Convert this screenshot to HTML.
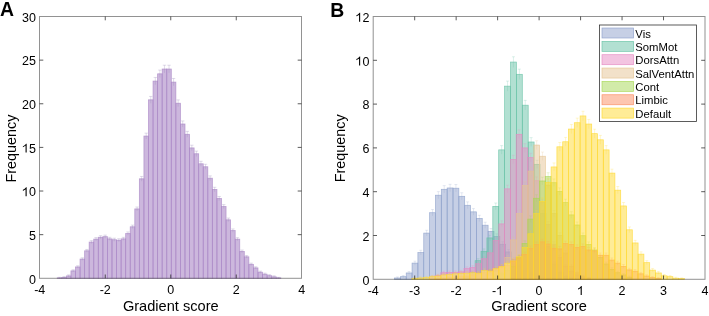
<!DOCTYPE html>
<html><head><meta charset="utf-8"><style>
html,body{margin:0;padding:0;background:#fff;}
svg{display:block;will-change:transform;}
</style></head><body>
<svg width="709" height="316" viewBox="0 0 709 316">
<rect width="709" height="316" fill="#fff"/>
<g fill="#AA87C6" fill-opacity="0.6" stroke="#AA87C6" stroke-opacity="0.75" stroke-width="0.8"><rect x="57.25" y="277.86" width="4.56" height="0.44"/><rect x="61.81" y="277.43" width="4.56" height="0.87"/><rect x="66.37" y="275.94" width="4.56" height="2.36"/><rect x="70.94" y="270.88" width="4.56" height="7.42"/><rect x="75.5" y="266.96" width="4.56" height="11.34"/><rect x="80.06" y="259.1" width="4.56" height="19.2"/><rect x="84.62" y="250.81" width="4.56" height="27.49"/><rect x="89.18" y="242.08" width="4.56" height="36.22"/><rect x="93.75" y="239.12" width="4.56" height="39.18"/><rect x="98.31" y="237.28" width="4.56" height="41.02"/><rect x="102.87" y="236.67" width="4.56" height="41.63"/><rect x="107.43" y="238.86" width="4.56" height="39.44"/><rect x="111.99" y="239.73" width="4.56" height="38.57"/><rect x="116.56" y="240.25" width="4.56" height="38.05"/><rect x="121.12" y="238.86" width="4.56" height="39.44"/><rect x="125.68" y="233.53" width="4.56" height="44.77"/><rect x="130.24" y="226.81" width="4.56" height="51.49"/><rect x="134.8" y="208.92" width="4.56" height="69.38"/><rect x="139.37" y="178.82" width="4.56" height="99.48"/><rect x="143.93" y="136.06" width="4.56" height="142.24"/><rect x="148.49" y="99.84" width="4.56" height="178.46"/><rect x="153.05" y="81.08" width="4.56" height="197.22"/><rect x="157.61" y="73.83" width="4.56" height="204.47"/><rect x="162.18" y="69.03" width="4.56" height="209.27"/><rect x="166.74" y="69.03" width="4.56" height="209.27"/><rect x="171.3" y="82.12" width="4.56" height="196.18"/><rect x="175.86" y="103.24" width="4.56" height="175.06"/><rect x="180.42" y="124.01" width="4.56" height="154.29"/><rect x="184.99" y="134.31" width="4.56" height="143.99"/><rect x="189.55" y="147.92" width="4.56" height="130.38"/><rect x="194.11" y="153.77" width="4.56" height="124.53"/><rect x="198.67" y="163.81" width="4.56" height="114.49"/><rect x="203.23" y="166.77" width="4.56" height="111.53"/><rect x="207.8" y="178.21" width="4.56" height="100.09"/><rect x="212.36" y="189.46" width="4.56" height="88.84"/><rect x="216.92" y="198.54" width="4.56" height="79.76"/><rect x="221.48" y="206.57" width="4.56" height="71.73"/><rect x="226.04" y="219.83" width="4.56" height="58.47"/><rect x="230.61" y="230.57" width="4.56" height="47.73"/><rect x="235.17" y="239.2" width="4.56" height="39.1"/><rect x="239.73" y="251.42" width="4.56" height="26.88"/><rect x="244.29" y="256.83" width="4.56" height="21.47"/><rect x="248.85" y="264.34" width="4.56" height="13.96"/><rect x="253.42" y="267.92" width="4.56" height="10.38"/><rect x="257.98" y="272.19" width="4.56" height="6.11"/><rect x="262.54" y="274.2" width="4.56" height="4.1"/><rect x="267.1" y="275.68" width="4.56" height="2.62"/><rect x="271.66" y="276.82" width="4.56" height="1.48"/><rect x="276.23" y="277.86" width="4.56" height="0.44"/></g><path d="M59.53 278.43V277.3M57.83 277.3H61.23M64.09 278.25V276.6M62.39 276.6H65.79M68.66 276.98V274.91M66.95 274.91H70.36M73.22 271.98V269.78M71.52 269.78H74.92M77.78 268.11V265.8M76.08 265.8H79.48M82.34 260.36V257.84M80.64 257.84H84.04M86.9 252.18V249.44M85.2 249.44H88.6M91.47 243.57V240.6M89.77 240.6H93.17M96.03 240.64V237.59M94.33 237.59H97.73M100.59 238.83V235.73M98.89 235.73H102.29M105.15 238.23V235.12M103.45 235.12H106.85M109.71 240.38V237.33M108.01 237.33H111.41M114.28 241.25V238.21M112.58 238.21H115.98M118.84 241.76V238.74M117.14 238.74H120.54M123.4 240.38V237.33M121.7 237.33H125.1M127.96 235.13V231.93M126.26 231.93H129.66M132.52 228.5V225.12M130.82 225.12H134.22M137.09 210.85V206.99M135.39 206.99H138.78M141.65 181.15V176.48M139.95 176.48H143.35M146.21 138.96V133.15M144.51 133.15H147.91M150.77 103.23V96.45M149.07 96.45H152.47M155.33 84.72V77.43M153.63 77.43H157.03M159.9 77.58V70.09M158.2 70.09H161.59M164.46 72.84V65.23M162.76 65.23H166.16M169.02 72.84V65.23M167.32 65.23H170.72M173.58 85.75V78.49M171.88 78.49H175.28M178.14 106.59V99.9M176.44 99.9H179.84M182.71 127.08V120.94M181.01 120.94H184.41M187.27 137.24V131.38M185.57 131.38H188.97M191.83 150.67V145.18M190.13 145.18H193.53M196.39 156.44V151.1M194.69 151.1H198.09M200.95 166.34V161.27M199.25 161.27H202.65M205.52 169.27V164.28M203.82 164.28H207.22M210.08 180.55V175.86M208.38 175.86H211.78M214.64 191.65V187.27M212.94 187.27H216.34M219.2 200.61V196.47M217.5 196.47H220.9M223.76 208.53V204.61M222.06 204.61H225.46M228.33 221.62V218.05M226.63 218.05H230.03M232.89 232.21V228.93M231.19 228.93H234.59M237.45 240.73V237.68M235.75 237.68H239.15M242.01 252.78V250.06M240.31 250.06H243.71M246.57 258.12V255.54M244.87 255.54H248.27M251.14 265.52V263.15M249.44 263.15H252.84M255.7 269.05V266.78M254 266.78H257.4M260.26 273.27V271.11M258.56 271.11H261.96M264.82 275.25V273.14M263.12 273.14H266.52M269.38 276.72V274.65M267.68 274.65H271.08M273.95 277.84V275.8M272.25 275.8H275.65M278.51 278.43V277.3M276.81 277.3H280.21" stroke="#9A88B8" stroke-opacity="0.5" stroke-width="0.6" fill="none"/>
<g fill="#8DA0CB" fill-opacity="0.5" stroke="#8DA0CB" stroke-opacity="0.8" stroke-width="0.7"><rect x="394.5" y="277.99" width="5.85" height="1.31"/><rect x="400.35" y="276.67" width="5.85" height="2.63"/><rect x="406.2" y="272.95" width="5.85" height="6.35"/><rect x="412.05" y="263.09" width="5.85" height="16.21"/><rect x="417.9" y="252.58" width="5.85" height="26.72"/><rect x="423.75" y="233.09" width="5.85" height="46.21"/><rect x="429.6" y="212.72" width="5.85" height="66.58"/><rect x="435.45" y="195.2" width="5.85" height="84.1"/><rect x="441.3" y="189.29" width="5.85" height="90.01"/><rect x="447.15" y="187.98" width="5.85" height="91.32"/><rect x="453" y="188.2" width="5.85" height="91.1"/><rect x="458.85" y="196.3" width="5.85" height="83"/><rect x="464.7" y="205.28" width="5.85" height="74.02"/><rect x="470.55" y="211.85" width="5.85" height="67.45"/><rect x="476.4" y="218.42" width="5.85" height="60.88"/><rect x="482.25" y="225.21" width="5.85" height="54.09"/><rect x="488.1" y="231.34" width="5.85" height="47.96"/><rect x="493.95" y="236.59" width="5.85" height="42.71"/><rect x="499.8" y="244.26" width="5.85" height="35.04"/><rect x="505.65" y="251.93" width="5.85" height="27.38"/><rect x="511.5" y="259.59" width="5.85" height="19.71"/><rect x="517.35" y="266.16" width="5.85" height="13.14"/><rect x="523.2" y="270.54" width="5.85" height="8.76"/><rect x="529.05" y="273.82" width="5.85" height="5.48"/><rect x="534.9" y="276.01" width="5.85" height="3.29"/><rect x="540.75" y="277.55" width="5.85" height="1.75"/><rect x="546.6" y="278.42" width="5.85" height="0.88"/></g><path d="M397.42 279.04V276.93M395.92 276.93H398.92M403.27 277.88V275.47M401.77 275.47H404.77M409.12 274.44V271.46M407.62 271.46H410.62M414.97 265.05V261.14M413.47 261.14H416.47M420.82 254.89V250.27M419.32 250.27H422.32M426.67 235.91V230.27M425.17 230.27H428.17M432.52 215.97V209.48M431.02 209.48H434.02M438.38 198.77V191.64M436.88 191.64H439.88M444.22 192.95V185.63M442.72 185.63H445.72M450.07 191.66V184.3M448.57 184.3H451.57M455.92 191.87V184.52M454.42 184.52H457.42M461.77 199.84V192.76M460.27 192.76H463.27M467.62 208.66V201.89M466.12 201.89H469.12M473.47 215.11V208.59M471.97 208.59H474.97M479.32 221.55V215.28M477.82 215.28H480.82M485.17 228.2V222.21M483.67 222.21H486.67M491.02 234.2V228.48M489.52 228.48H492.52M496.88 239.33V233.86M495.38 233.86H498.38M502.72 246.81V241.71M501.22 241.71H504.22M508.57 254.26V249.59M507.07 249.59H510.07M514.42 261.68V257.5M512.92 257.5H515.92M520.27 267.99V264.33M518.77 264.33H521.77M526.12 272.16V268.92M524.62 268.92H527.62M531.97 275.25V272.39M530.47 272.39H533.47M537.82 277.28V274.75M536.32 274.75H539.32M543.67 278.66V276.44M542.17 276.44H545.17M549.52 279.25V277.6M548.02 277.6H551.02" stroke="#8DA0CB" stroke-opacity="0.38" stroke-width="0.6" fill="none"/>
<g fill="#66C2A5" fill-opacity="0.5" stroke="#66C2A5" stroke-opacity="0.8" stroke-width="0.7"><rect x="463.3" y="277.11" width="5.9" height="2.19"/><rect x="469.2" y="272.73" width="5.9" height="6.57"/><rect x="475.1" y="260.69" width="5.9" height="18.62"/><rect x="481" y="251.27" width="5.9" height="28.03"/><rect x="486.9" y="237.91" width="5.9" height="41.39"/><rect x="492.8" y="206.37" width="5.9" height="72.93"/><rect x="498.7" y="149.87" width="5.9" height="129.43"/><rect x="504.6" y="86.14" width="5.9" height="193.16"/><rect x="510.5" y="62.05" width="5.9" height="217.25"/><rect x="516.4" y="74.32" width="5.9" height="204.98"/><rect x="522.3" y="105.19" width="5.9" height="174.11"/><rect x="528.2" y="141.99" width="5.9" height="137.31"/><rect x="534.1" y="164.32" width="5.9" height="114.98"/><rect x="540" y="213.6" width="5.9" height="65.7"/><rect x="545.9" y="246.45" width="5.9" height="32.85"/><rect x="551.8" y="263.97" width="5.9" height="15.33"/><rect x="557.7" y="272.73" width="5.9" height="6.57"/><rect x="563.6" y="276.67" width="5.9" height="2.63"/><rect x="569.5" y="278.2" width="5.9" height="1.1"/></g><path d="M466.25 278.27V275.95M464.75 275.95H467.75M472.15 274.23V271.23M470.65 271.23H473.65M478.05 262.73V258.64M476.55 258.64H479.55M483.95 253.62V248.92M482.45 248.92H485.45M489.85 240.62V235.2M488.35 235.2H491.35M495.75 209.74V203.01M494.25 203.01H497.25M501.65 154.12V145.62M500.15 145.62H503.15M507.55 91.18V81.11M506.05 81.11H509.05M513.45 67.35V56.75M511.95 56.75H514.95M519.35 79.48V69.15M517.85 69.15H520.85M525.25 110.01V100.38M523.75 100.38H526.75M531.15 146.34V137.63M529.65 137.63H532.65M537.05 168.37V160.28M535.55 160.28H538.55M542.95 216.83V210.37M541.45 210.37H544.45M548.85 248.94V243.96M547.35 243.96H550.35M554.75 265.89V262.05M553.25 262.05H556.25M560.65 274.23V271.23M559.15 271.23H562.15M566.55 277.88V275.47M565.05 275.47H568.05M572.45 279.16V277.25M570.95 277.25H573.95" stroke="#66C2A5" stroke-opacity="0.38" stroke-width="0.6" fill="none"/>
<g fill="#E78AC3" fill-opacity="0.5" stroke="#E78AC3" stroke-opacity="0.8" stroke-width="0.7"><rect x="429.2" y="277.11" width="5.8" height="2.19"/><rect x="435" y="275.58" width="5.8" height="3.72"/><rect x="440.8" y="272.73" width="5.8" height="6.57"/><rect x="446.6" y="272.51" width="5.8" height="6.79"/><rect x="452.4" y="272.29" width="5.8" height="7.01"/><rect x="458.2" y="271.85" width="5.8" height="7.45"/><rect x="464" y="268.57" width="5.8" height="10.73"/><rect x="469.8" y="267.47" width="5.8" height="11.83"/><rect x="475.6" y="263.75" width="5.8" height="15.55"/><rect x="481.4" y="258.71" width="5.8" height="20.59"/><rect x="487.2" y="252.8" width="5.8" height="26.5"/><rect x="493" y="240.54" width="5.8" height="38.76"/><rect x="498.8" y="223.89" width="5.8" height="55.41"/><rect x="504.6" y="188.85" width="5.8" height="90.45"/><rect x="510.4" y="159.51" width="5.8" height="119.79"/><rect x="516.2" y="134.32" width="5.8" height="144.98"/><rect x="522" y="147.9" width="5.8" height="131.4"/><rect x="527.8" y="157.54" width="5.8" height="121.76"/><rect x="533.6" y="180.75" width="5.8" height="98.55"/><rect x="539.4" y="202.65" width="5.8" height="76.65"/><rect x="545.2" y="224.55" width="5.8" height="54.75"/><rect x="551" y="244.26" width="5.8" height="35.04"/><rect x="556.8" y="257.4" width="5.8" height="21.9"/><rect x="562.6" y="266.16" width="5.8" height="13.14"/><rect x="568.4" y="271.63" width="5.8" height="7.67"/><rect x="574.2" y="274.92" width="5.8" height="4.38"/><rect x="580" y="277.11" width="5.8" height="2.19"/><rect x="585.8" y="278.2" width="5.8" height="1.1"/></g><path d="M432.1 278.27V275.95M430.6 275.95H433.6M437.9 276.88V274.28M436.4 274.28H439.4M443.7 274.23V271.23M442.2 271.23H445.2M449.5 274.02V271M448 271H451M455.3 273.82V270.77M453.8 270.77H456.8M461.1 273.41V270.3M459.6 270.3H462.6M466.9 270.29V266.85M465.4 266.85H468.4M472.7 269.25V265.7M471.2 265.7H474.2M478.5 265.68V261.82M477 261.82H480M484.3 260.83V256.6M482.8 256.6H485.8M490.1 255.11V250.5M488.6 250.5H491.6M495.9 243.18V237.89M494.4 237.89H497.4M501.7 226.92V220.87M500.2 220.87H503.2M507.5 192.52V185.19M506 185.19H509M513.3 163.62V155.39M511.8 155.39H514.8M519.1 138.78V129.87M517.6 129.87H520.6M524.9 152.18V143.62M523.4 143.62H526.4M530.7 161.68V153.39M529.2 153.39H532.2M536.5 184.55V176.95M535 176.95H538M542.3 206.08V199.22M540.8 199.22H543.8M548.1 227.56V221.54M546.6 221.54H549.6M553.9 246.81V241.71M552.4 241.71H555.4M559.7 259.56V255.24M558.2 255.24H561.2M565.5 267.99V264.33M564 264.33H567M571.3 273.2V270.07M569.8 270.07H572.8M577.1 276.27V273.57M575.6 273.57H578.6M582.9 278.27V275.95M581.4 275.95H584.4M588.7 279.16V277.25M587.2 277.25H590.2" stroke="#E78AC3" stroke-opacity="0.38" stroke-width="0.6" fill="none"/>
<g fill="#E5C494" fill-opacity="0.5" stroke="#E5C494" stroke-opacity="0.8" stroke-width="0.7"><rect x="487.4" y="276.01" width="5.8" height="3.29"/><rect x="493.2" y="272.73" width="5.8" height="6.57"/><rect x="499" y="268.35" width="5.8" height="10.95"/><rect x="504.8" y="257.4" width="5.8" height="21.9"/><rect x="510.6" y="239.88" width="5.8" height="39.42"/><rect x="516.4" y="213.6" width="5.8" height="65.7"/><rect x="522.2" y="185.35" width="5.8" height="93.95"/><rect x="528" y="171.11" width="5.8" height="108.19"/><rect x="533.8" y="145.05" width="5.8" height="134.25"/><rect x="539.6" y="156.22" width="5.8" height="123.08"/><rect x="545.4" y="185.13" width="5.8" height="94.17"/><rect x="551.2" y="213.6" width="5.8" height="65.7"/><rect x="557" y="235.5" width="5.8" height="43.8"/><rect x="562.8" y="253.02" width="5.8" height="26.28"/><rect x="568.6" y="266.16" width="5.8" height="13.14"/><rect x="574.4" y="272.73" width="5.8" height="6.57"/><rect x="580.2" y="276.01" width="5.8" height="3.29"/><rect x="586" y="278.2" width="5.8" height="1.1"/></g><path d="M490.3 277.28V274.75M488.8 274.75H491.8M496.1 274.23V271.23M494.6 271.23H497.6M501.9 270.08V266.62M500.4 266.62H503.4M507.7 259.56V255.24M506.2 255.24H509.2M513.5 242.54V237.22M512 237.22H515M519.3 216.83V210.37M517.8 210.37H520.8M525.1 189.07V181.63M523.6 181.63H526.6M530.9 175.06V167.17M529.4 167.17H532.4M536.7 149.37V140.74M535.2 140.74H538.2M542.5 160.38V152.06M541 152.06H544M548.3 188.86V181.4M546.8 181.4H549.8M554.1 216.83V210.37M552.6 210.37H555.6M559.9 238.26V232.74M558.4 232.74H561.4M565.7 255.32V250.72M564.2 250.72H567.2M571.5 267.99V264.33M570 264.33H573M577.3 274.23V271.23M575.8 271.23H578.8M583.1 277.28V274.75M581.6 274.75H584.6M588.9 279.16V277.25M587.4 277.25H590.4" stroke="#E5C494" stroke-opacity="0.38" stroke-width="0.6" fill="none"/>
<g fill="#A6D854" fill-opacity="0.5" stroke="#A6D854" stroke-opacity="0.8" stroke-width="0.7"><rect x="493" y="276.01" width="5.8" height="3.29"/><rect x="498.8" y="273.82" width="5.8" height="5.48"/><rect x="504.6" y="270.54" width="5.8" height="8.76"/><rect x="510.4" y="266.16" width="5.8" height="13.14"/><rect x="516.2" y="257.4" width="5.8" height="21.9"/><rect x="522" y="243.38" width="5.8" height="35.92"/><rect x="527.8" y="219.08" width="5.8" height="60.22"/><rect x="533.6" y="198.27" width="5.8" height="81.03"/><rect x="539.4" y="180.97" width="5.8" height="98.33"/><rect x="545.2" y="176.59" width="5.8" height="102.71"/><rect x="551" y="182.72" width="5.8" height="96.58"/><rect x="556.8" y="191.48" width="5.8" height="87.82"/><rect x="562.6" y="202.65" width="5.8" height="76.65"/><rect x="568.4" y="214.91" width="5.8" height="64.39"/><rect x="574.2" y="224.99" width="5.8" height="54.31"/><rect x="580" y="235.72" width="5.8" height="43.58"/><rect x="585.8" y="244.48" width="5.8" height="34.82"/><rect x="591.6" y="249.95" width="5.8" height="29.35"/><rect x="597.4" y="257.4" width="5.8" height="21.9"/><rect x="603.2" y="263.97" width="5.8" height="15.33"/><rect x="609" y="269.44" width="5.8" height="9.86"/><rect x="614.8" y="272.73" width="5.8" height="6.57"/><rect x="620.6" y="274.92" width="5.8" height="4.38"/><rect x="626.4" y="277.11" width="5.8" height="2.19"/></g><path d="M495.9 277.28V274.75M494.4 274.75H497.4M501.7 275.25V272.39M500.2 272.39H503.2M507.5 272.16V268.92M506 268.92H509M513.3 267.99V264.33M511.8 264.33H514.8M519.1 259.56V255.24M517.6 255.24H520.6M524.9 245.95V240.81M523.4 240.81H526.4M530.7 222.2V215.95M529.2 215.95H532.2M536.5 201.78V194.76M535 194.76H538M542.3 184.76V177.18M540.8 177.18H543.8M548.1 180.45V172.73M546.6 172.73H549.6M553.9 186.49V178.96M552.4 178.96H555.4M559.7 195.1V187.86M558.2 187.86H561.2M565.5 206.08V199.22M564 199.22H567M571.3 218.12V211.71M569.8 211.71H572.8M577.1 227.99V221.99M575.6 221.99H578.6M582.9 238.48V232.96M581.4 232.96H584.4M588.7 247.02V241.94M587.2 241.94H590.2M594.5 252.34V247.56M593 247.56H596M600.3 259.56V255.24M598.8 255.24H601.8M606.1 265.89V262.05M604.6 262.05H607.6M611.9 271.12V267.77M610.4 267.77H613.4M617.7 274.23V271.23M616.2 271.23H619.2M623.5 276.27V273.57M622 273.57H625M629.3 278.27V275.95M627.8 275.95H630.8" stroke="#A6D854" stroke-opacity="0.38" stroke-width="0.6" fill="none"/>
<g fill="#FC8D62" fill-opacity="0.5" stroke="#FC8D62" stroke-opacity="0.8" stroke-width="0.7"><rect x="434.9" y="278.64" width="5.8" height="0.66"/><rect x="440.7" y="278.2" width="5.8" height="1.1"/><rect x="446.5" y="277.55" width="5.8" height="1.75"/><rect x="452.3" y="277.11" width="5.8" height="2.19"/><rect x="458.1" y="276.67" width="5.8" height="2.63"/><rect x="463.9" y="276.01" width="5.8" height="3.29"/><rect x="469.7" y="274.92" width="5.8" height="4.38"/><rect x="475.5" y="273.82" width="5.8" height="5.48"/><rect x="481.3" y="272.73" width="5.8" height="6.57"/><rect x="487.1" y="271.2" width="5.8" height="8.1"/><rect x="492.9" y="269.44" width="5.8" height="9.86"/><rect x="498.7" y="267.04" width="5.8" height="12.26"/><rect x="504.5" y="265.5" width="5.8" height="13.8"/><rect x="510.3" y="261.12" width="5.8" height="18.18"/><rect x="516.1" y="258.06" width="5.8" height="21.24"/><rect x="521.9" y="254.33" width="5.8" height="24.97"/><rect x="527.7" y="248.42" width="5.8" height="30.88"/><rect x="533.5" y="244.48" width="5.8" height="34.82"/><rect x="539.3" y="241.85" width="5.8" height="37.45"/><rect x="545.1" y="244.04" width="5.8" height="35.26"/><rect x="550.9" y="248.2" width="5.8" height="31.1"/><rect x="556.7" y="248.86" width="5.8" height="30.44"/><rect x="562.5" y="243.6" width="5.8" height="35.7"/><rect x="568.3" y="244.48" width="5.8" height="34.82"/><rect x="574.1" y="247.33" width="5.8" height="31.97"/><rect x="579.9" y="246.45" width="5.8" height="32.85"/><rect x="585.7" y="249.95" width="5.8" height="29.35"/><rect x="591.5" y="250.83" width="5.8" height="28.47"/><rect x="597.3" y="255.21" width="5.8" height="24.09"/><rect x="603.1" y="255.21" width="5.8" height="24.09"/><rect x="608.9" y="260.03" width="5.8" height="19.27"/><rect x="614.7" y="263.09" width="5.8" height="16.21"/><rect x="620.5" y="266.38" width="5.8" height="12.92"/><rect x="626.3" y="269.88" width="5.8" height="9.42"/><rect x="632.1" y="271.2" width="5.8" height="8.1"/><rect x="637.9" y="273.82" width="5.8" height="5.48"/><rect x="643.7" y="276.01" width="5.8" height="3.29"/><rect x="649.5" y="277.55" width="5.8" height="1.75"/><rect x="655.3" y="278.42" width="5.8" height="0.88"/></g><path d="M437.8 279.34V277.95M436.3 277.95H439.3M443.6 279.16V277.25M442.1 277.25H445.1M449.4 278.66V276.44M447.9 276.44H450.9M455.2 278.27V275.95M453.7 275.95H456.7M461 277.88V275.47M459.5 275.47H462.5M466.8 277.28V274.75M465.3 274.75H468.3M472.6 276.27V273.57M471.1 273.57H474.1M478.4 275.25V272.39M476.9 272.39H479.9M484.2 274.23V271.23M482.7 271.23H485.7M490 272.79V269.61M488.5 269.61H491.5M495.8 271.12V267.77M494.3 267.77H497.3M501.6 268.83V265.24M500.1 265.24H503.1M507.4 267.36V263.64M505.9 263.64H508.9M513.2 263.15V259.09M511.7 259.09H514.7M519 260.19V255.92M517.5 255.92H520.5M524.8 256.59V252.08M523.3 252.08H526.3M530.6 250.85V245.99M529.1 245.99H532.1M536.4 247.02V241.94M534.9 241.94H537.9M542.2 244.46V239.24M540.7 239.24H543.7M548 246.59V241.49M546.5 241.49H549.5M553.8 250.64V245.76M552.3 245.76H555.3M559.6 251.28V246.44M558.1 246.44H561.1M565.4 246.17V241.04M563.9 241.04H566.9M571.2 247.02V241.94M569.7 241.94H572.7M577 249.79V244.86M575.5 244.86H578.5M582.8 248.94V243.96M581.3 243.96H584.3M588.6 252.34V247.56M587.1 247.56H590.1M594.4 253.19V248.47M592.9 248.47H595.9M600.2 257.44V252.98M598.7 252.98H601.7M606 257.44V252.98M604.5 252.98H607.5M611.8 262.1V257.96M610.3 257.96H613.3M617.6 265.05V261.14M616.1 261.14H619.1M623.4 268.2V264.56M621.9 264.56H624.9M629.2 271.54V268.23M627.7 268.23H630.7M635 272.79V269.61M633.5 269.61H636.5M640.8 275.25V272.39M639.3 272.39H642.3M646.6 277.28V274.75M645.1 274.75H648.1M652.4 278.66V276.44M650.9 276.44H653.9M658.2 279.25V277.6M656.7 277.6H659.7" stroke="#FC8D62" stroke-opacity="0.38" stroke-width="0.6" fill="none"/>
<g fill="#fff" fill-opacity="0.4"><rect x="411.9" y="278.42" width="5.8" height="0.88"/><rect x="417.7" y="277.99" width="5.8" height="1.31"/><rect x="423.5" y="277.55" width="5.8" height="1.75"/><rect x="429.3" y="276.67" width="5.8" height="2.63"/><rect x="435.1" y="276.01" width="5.8" height="3.29"/><rect x="440.9" y="274.92" width="5.8" height="4.38"/><rect x="446.7" y="274.48" width="5.8" height="4.82"/><rect x="452.5" y="273.82" width="5.8" height="5.48"/><rect x="458.3" y="273.61" width="5.8" height="5.69"/><rect x="464.1" y="273.17" width="5.8" height="6.13"/><rect x="469.9" y="272.73" width="5.8" height="6.57"/><rect x="475.7" y="273.17" width="5.8" height="6.13"/><rect x="481.5" y="270.54" width="5.8" height="8.76"/><rect x="487.3" y="270.98" width="5.8" height="8.32"/><rect x="493.1" y="268.57" width="5.8" height="10.73"/><rect x="498.9" y="266.38" width="5.8" height="12.92"/><rect x="504.7" y="263.09" width="5.8" height="16.21"/></g>
<g fill="#FFD92F" fill-opacity="0.5" stroke="#FFD92F" stroke-opacity="0.8" stroke-width="0.7"><rect x="411.9" y="278.42" width="5.8" height="0.88"/><rect x="417.7" y="277.99" width="5.8" height="1.31"/><rect x="423.5" y="277.55" width="5.8" height="1.75"/><rect x="429.3" y="276.67" width="5.8" height="2.63"/><rect x="435.1" y="276.01" width="5.8" height="3.29"/><rect x="440.9" y="274.92" width="5.8" height="4.38"/><rect x="446.7" y="274.48" width="5.8" height="4.82"/><rect x="452.5" y="273.82" width="5.8" height="5.48"/><rect x="458.3" y="273.61" width="5.8" height="5.69"/><rect x="464.1" y="273.17" width="5.8" height="6.13"/><rect x="469.9" y="272.73" width="5.8" height="6.57"/><rect x="475.7" y="273.17" width="5.8" height="6.13"/><rect x="481.5" y="270.54" width="5.8" height="8.76"/><rect x="487.3" y="270.98" width="5.8" height="8.32"/><rect x="493.1" y="268.57" width="5.8" height="10.73"/><rect x="498.9" y="266.38" width="5.8" height="12.92"/><rect x="504.7" y="263.09" width="5.8" height="16.21"/><rect x="510.5" y="260.9" width="5.8" height="18.4"/><rect x="516.3" y="256.74" width="5.8" height="22.56"/><rect x="522.1" y="247.33" width="5.8" height="31.97"/><rect x="527.9" y="233.75" width="5.8" height="45.55"/><rect x="533.7" y="213.6" width="5.8" height="65.7"/><rect x="539.5" y="201.34" width="5.8" height="77.96"/><rect x="545.3" y="182.5" width="5.8" height="96.8"/><rect x="551.1" y="166.95" width="5.8" height="112.35"/><rect x="556.9" y="146.81" width="5.8" height="132.5"/><rect x="562.7" y="141.77" width="5.8" height="137.53"/><rect x="568.5" y="129.07" width="5.8" height="150.23"/><rect x="574.3" y="122.72" width="5.8" height="156.59"/><rect x="580.1" y="115.93" width="5.8" height="163.37"/><rect x="585.9" y="124.03" width="5.8" height="155.27"/><rect x="591.7" y="133.66" width="5.8" height="145.64"/><rect x="597.5" y="139.8" width="5.8" height="139.5"/><rect x="603.3" y="149.87" width="5.8" height="129.43"/><rect x="609.1" y="173.09" width="5.8" height="106.21"/><rect x="614.9" y="190.17" width="5.8" height="89.13"/><rect x="620.7" y="205.94" width="5.8" height="73.37"/><rect x="626.5" y="229.81" width="5.8" height="49.49"/><rect x="632.3" y="242.95" width="5.8" height="36.35"/><rect x="638.1" y="254.12" width="5.8" height="25.19"/><rect x="643.9" y="262.66" width="5.8" height="16.64"/><rect x="649.7" y="270.1" width="5.8" height="9.2"/><rect x="655.5" y="272.95" width="5.8" height="6.35"/><rect x="661.3" y="275.8" width="5.8" height="3.5"/><rect x="667.1" y="276.67" width="5.8" height="2.63"/><rect x="672.9" y="278.2" width="5.8" height="1.1"/><rect x="678.7" y="278.64" width="5.8" height="0.66"/></g><path d="M414.8 279.25V277.6M413.3 277.6H416.3M420.6 279.04V276.93M419.1 276.93H422.1M426.4 278.66V276.44M424.9 276.44H427.9M432.2 277.88V275.47M430.7 275.47H433.7M438 277.28V274.75M436.5 274.75H439.5M443.8 276.27V273.57M442.3 273.57H445.3M449.6 275.87V273.1M448.1 273.1H451.1M455.4 275.25V272.39M453.9 272.39H456.9M461.2 275.05V272.16M459.7 272.16H462.7M467 274.64V271.7M465.5 271.7H468.5M472.8 274.23V271.23M471.3 271.23H474.3M478.6 274.64V271.7M477.1 271.7H480.1M484.4 272.16V268.92M482.9 268.92H485.9M490.2 272.58V269.38M488.7 269.38H491.7M496 270.29V266.85M494.5 266.85H497.5M501.8 268.2V264.56M500.3 264.56H503.3M507.6 265.05V261.14M506.1 261.14H509.1M513.4 262.94V258.87M511.9 258.87H514.9M519.2 258.92V254.56M517.7 254.56H520.7M525 249.79V244.86M523.5 244.86H526.5M530.8 236.55V230.94M529.3 230.94H532.3M536.6 216.83V210.37M535.1 210.37H538.1M542.4 204.79V197.88M540.9 197.88H543.9M548.2 186.27V178.73M546.7 178.73H549.7M554 170.96V162.95M552.5 162.95H555.5M559.8 151.1V142.51M558.3 142.51H561.3M565.6 146.13V137.41M564.1 137.41H567.1M571.4 133.59V124.54M569.9 124.54H572.9M577.2 127.32V118.11M575.7 118.11H578.7M583 120.61V111.24M581.5 111.24H584.5M588.8 128.62V119.44M587.3 119.44H590.3M594.6 138.13V129.2M593.1 129.2H596.1M600.4 144.18V135.41M598.9 135.41H601.9M606.2 154.12V145.62M604.7 145.62H607.7M612 177V169.17M610.5 169.17H613.5M617.8 193.81V186.52M616.3 186.52H619.3M623.6 209.31V202.56M622.1 202.56H625.1M629.4 232.7V226.91M627.9 226.91H630.9M635.2 245.53V240.36M633.7 240.36H636.7M641 256.38V251.85M639.5 251.85H642.5M646.8 264.63V260.68M645.3 260.68H648.3M652.6 271.75V268.46M651.1 268.46H654.1M658.4 274.44V271.46M656.9 271.46H659.9M664.2 277.08V274.51M662.7 274.51H665.7M670 277.88V275.47M668.5 275.47H671.5M675.8 279.16V277.25M674.3 277.25H677.3M681.6 279.34V277.95M680.1 277.95H683.1" stroke="#FFD92F" stroke-opacity="0.38" stroke-width="0.6" fill="none"/>
<rect x="39.5" y="16.5" width="262" height="261.8" fill="none" stroke="#262626" stroke-opacity="0.5" stroke-width="1"/><path d="M105.25 278.3V274.5M105.25 16.5V20.3M170.75 278.3V274.5M170.75 16.5V20.3M236.25 278.3V274.5M236.25 16.5V20.3M39.5 234.67H43.3M301.5 234.67H297.7M39.5 191.03H43.3M301.5 191.03H297.7M39.5 147.4H43.3M301.5 147.4H297.7M39.5 103.77H43.3M301.5 103.77H297.7M39.5 60.13H43.3M301.5 60.13H297.7" stroke="#262626" stroke-opacity="0.75" stroke-width="1" fill="none"/>
<rect x="373.2" y="16.5" width="331.8" height="262.8" fill="none" stroke="#262626" stroke-opacity="0.5" stroke-width="1"/><path d="M414.68 279.3V275.5M414.68 16.5V20.3M456.15 279.3V275.5M456.15 16.5V20.3M497.62 279.3V275.5M497.62 16.5V20.3M539.1 279.3V275.5M539.1 16.5V20.3M580.58 279.3V275.5M580.58 16.5V20.3M622.05 279.3V275.5M622.05 16.5V20.3M663.53 279.3V275.5M663.53 16.5V20.3M373.2 235.5H377M705 235.5H701.2M373.2 191.7H377M705 191.7H701.2M373.2 147.9H377M705 147.9H701.2M373.2 104.1H377M705 104.1H701.2M373.2 60.3H377M705 60.3H701.2" stroke="#262626" stroke-opacity="0.75" stroke-width="1" fill="none"/>
<g font-family="'Liberation Sans', sans-serif" fill="#000"><text x="28.95" y="283.5" font-size="12.5">0</text><text x="28.95" y="239.87" font-size="12.5">5</text><path d="M26.66 196.23L25.56 196.23L25.56 189.23C25.12 189.67 24 190.48 22.9 190.9L22.9 189.83C24.5 189.11 25.75 187.98 26.05 187.28L26.66 187.28Z"/><text x="28.95" y="196.23" font-size="12.5">0</text><path d="M26.66 152.6L25.56 152.6L25.56 145.6C25.12 146.04 24 146.85 22.9 147.26L22.9 146.2C24.5 145.47 25.75 144.35 26.05 143.65L26.66 143.65Z"/><text x="28.95" y="152.6" font-size="12.5">5</text><text x="22" y="108.97" font-size="12.5">2</text><text x="28.95" y="108.97" font-size="12.5">0</text><text x="22" y="65.33" font-size="12.5">2</text><text x="28.95" y="65.33" font-size="12.5">5</text><text x="22" y="21.7" font-size="12.5">3</text><text x="28.95" y="21.7" font-size="12.5">0</text><text x="34.19" y="293.8" font-size="12.5">-</text><text x="38.36" y="293.8" font-size="12.5">4</text><text x="99.69" y="293.8" font-size="12.5">-</text><text x="103.86" y="293.8" font-size="12.5">2</text><text x="167.28" y="293.8" font-size="12.5">0</text><text x="232.78" y="293.8" font-size="12.5">2</text><text x="298.27" y="293.8" font-size="12.5">4</text><text x="362.45" y="284.5" font-size="12.5">0</text><text x="362.45" y="240.7" font-size="12.5">2</text><text x="362.45" y="196.9" font-size="12.5">4</text><text x="362.45" y="153.1" font-size="12.5">6</text><text x="362.45" y="109.3" font-size="12.5">8</text><path d="M360.16 65.5L359.06 65.5L359.06 58.5C358.62 58.94 357.5 59.75 356.4 60.16L356.4 59.1C358 58.38 359.25 57.25 359.55 56.55L360.16 56.55Z"/><text x="362.45" y="65.5" font-size="12.5">0</text><path d="M360.16 21.7L359.06 21.7L359.06 14.7C358.62 15.14 357.5 15.95 356.4 16.36L356.4 15.3C358 14.57 359.25 13.45 359.55 12.75L360.16 12.75Z"/><text x="362.45" y="21.7" font-size="12.5">2</text><text x="367.64" y="294.9" font-size="12.5">-</text><text x="371.81" y="294.9" font-size="12.5">4</text><text x="409.12" y="294.9" font-size="12.5">-</text><text x="413.28" y="294.9" font-size="12.5">3</text><text x="450.59" y="294.9" font-size="12.5">-</text><text x="454.76" y="294.9" font-size="12.5">2</text><text x="492.07" y="294.9" font-size="12.5">-</text><path d="M500.89 294.9L499.79 294.9L499.79 287.9C499.36 288.34 498.23 289.15 497.13 289.56L497.13 288.5C498.73 287.77 499.98 286.65 500.28 285.95L500.89 285.95Z"/><text x="535.62" y="294.9" font-size="12.5">0</text><path d="M581.76 294.9L580.66 294.9L580.66 287.9C580.23 288.34 579.1 289.15 578 289.56L578 288.5C579.6 287.77 580.85 286.65 581.15 285.95L581.76 285.95Z"/><text x="618.58" y="294.9" font-size="12.5">2</text><text x="660.05" y="294.9" font-size="12.5">3</text><text x="701.52" y="294.9" font-size="12.5">4</text><text x="170.75" y="310.5" text-anchor="middle" font-size="14.6">Gradient score</text><text x="539.1" y="311.1" text-anchor="middle" font-size="14.6">Gradient score</text><text transform="translate(15.9 148.6) rotate(-90)" text-anchor="middle" font-size="14.4">Frequency</text><text transform="translate(344.7 148.3) rotate(-90)" text-anchor="middle" font-size="14.4">Frequency</text><text x="0.1" y="16.0" font-size="19.4" font-weight="bold">A</text><text x="330.3" y="16.6" font-size="19.4" font-weight="bold">B</text></g>
<rect x="599.5" y="25" width="97" height="96.5" fill="#fff" stroke="#333" stroke-width="0.8"/><rect x="602" y="28" width="31.6" height="10" fill="#8DA0CB" fill-opacity="0.5" stroke="#8DA0CB" stroke-opacity="0.9" stroke-width="0.7"/><text x="635.3" y="37.7" font-size="11.3" font-family="'Liberation Sans', sans-serif">Vis</text><rect x="602" y="41.35" width="31.6" height="10" fill="#66C2A5" fill-opacity="0.5" stroke="#66C2A5" stroke-opacity="0.9" stroke-width="0.7"/><text x="635.3" y="51.05" font-size="11.3" font-family="'Liberation Sans', sans-serif">SomMot</text><rect x="602" y="54.7" width="31.6" height="10" fill="#E78AC3" fill-opacity="0.5" stroke="#E78AC3" stroke-opacity="0.9" stroke-width="0.7"/><text x="635.3" y="64.4" font-size="11.3" font-family="'Liberation Sans', sans-serif">DorsAttn</text><rect x="602" y="68.05" width="31.6" height="10" fill="#E5C494" fill-opacity="0.5" stroke="#E5C494" stroke-opacity="0.9" stroke-width="0.7"/><text x="635.3" y="77.75" font-size="11.3" font-family="'Liberation Sans', sans-serif">SalVentAttn</text><rect x="602" y="81.4" width="31.6" height="10" fill="#A6D854" fill-opacity="0.5" stroke="#A6D854" stroke-opacity="0.9" stroke-width="0.7"/><text x="635.3" y="91.1" font-size="11.3" font-family="'Liberation Sans', sans-serif">Cont</text><rect x="602" y="94.75" width="31.6" height="10" fill="#FC8D62" fill-opacity="0.5" stroke="#FC8D62" stroke-opacity="0.9" stroke-width="0.7"/><text x="635.3" y="104.45" font-size="11.3" font-family="'Liberation Sans', sans-serif">Limbic</text><rect x="602" y="108.1" width="31.6" height="10" fill="#FFD92F" fill-opacity="0.5" stroke="#FFD92F" stroke-opacity="0.9" stroke-width="0.7"/><text x="635.3" y="117.8" font-size="11.3" font-family="'Liberation Sans', sans-serif">Default</text>
</svg>
</body></html>
